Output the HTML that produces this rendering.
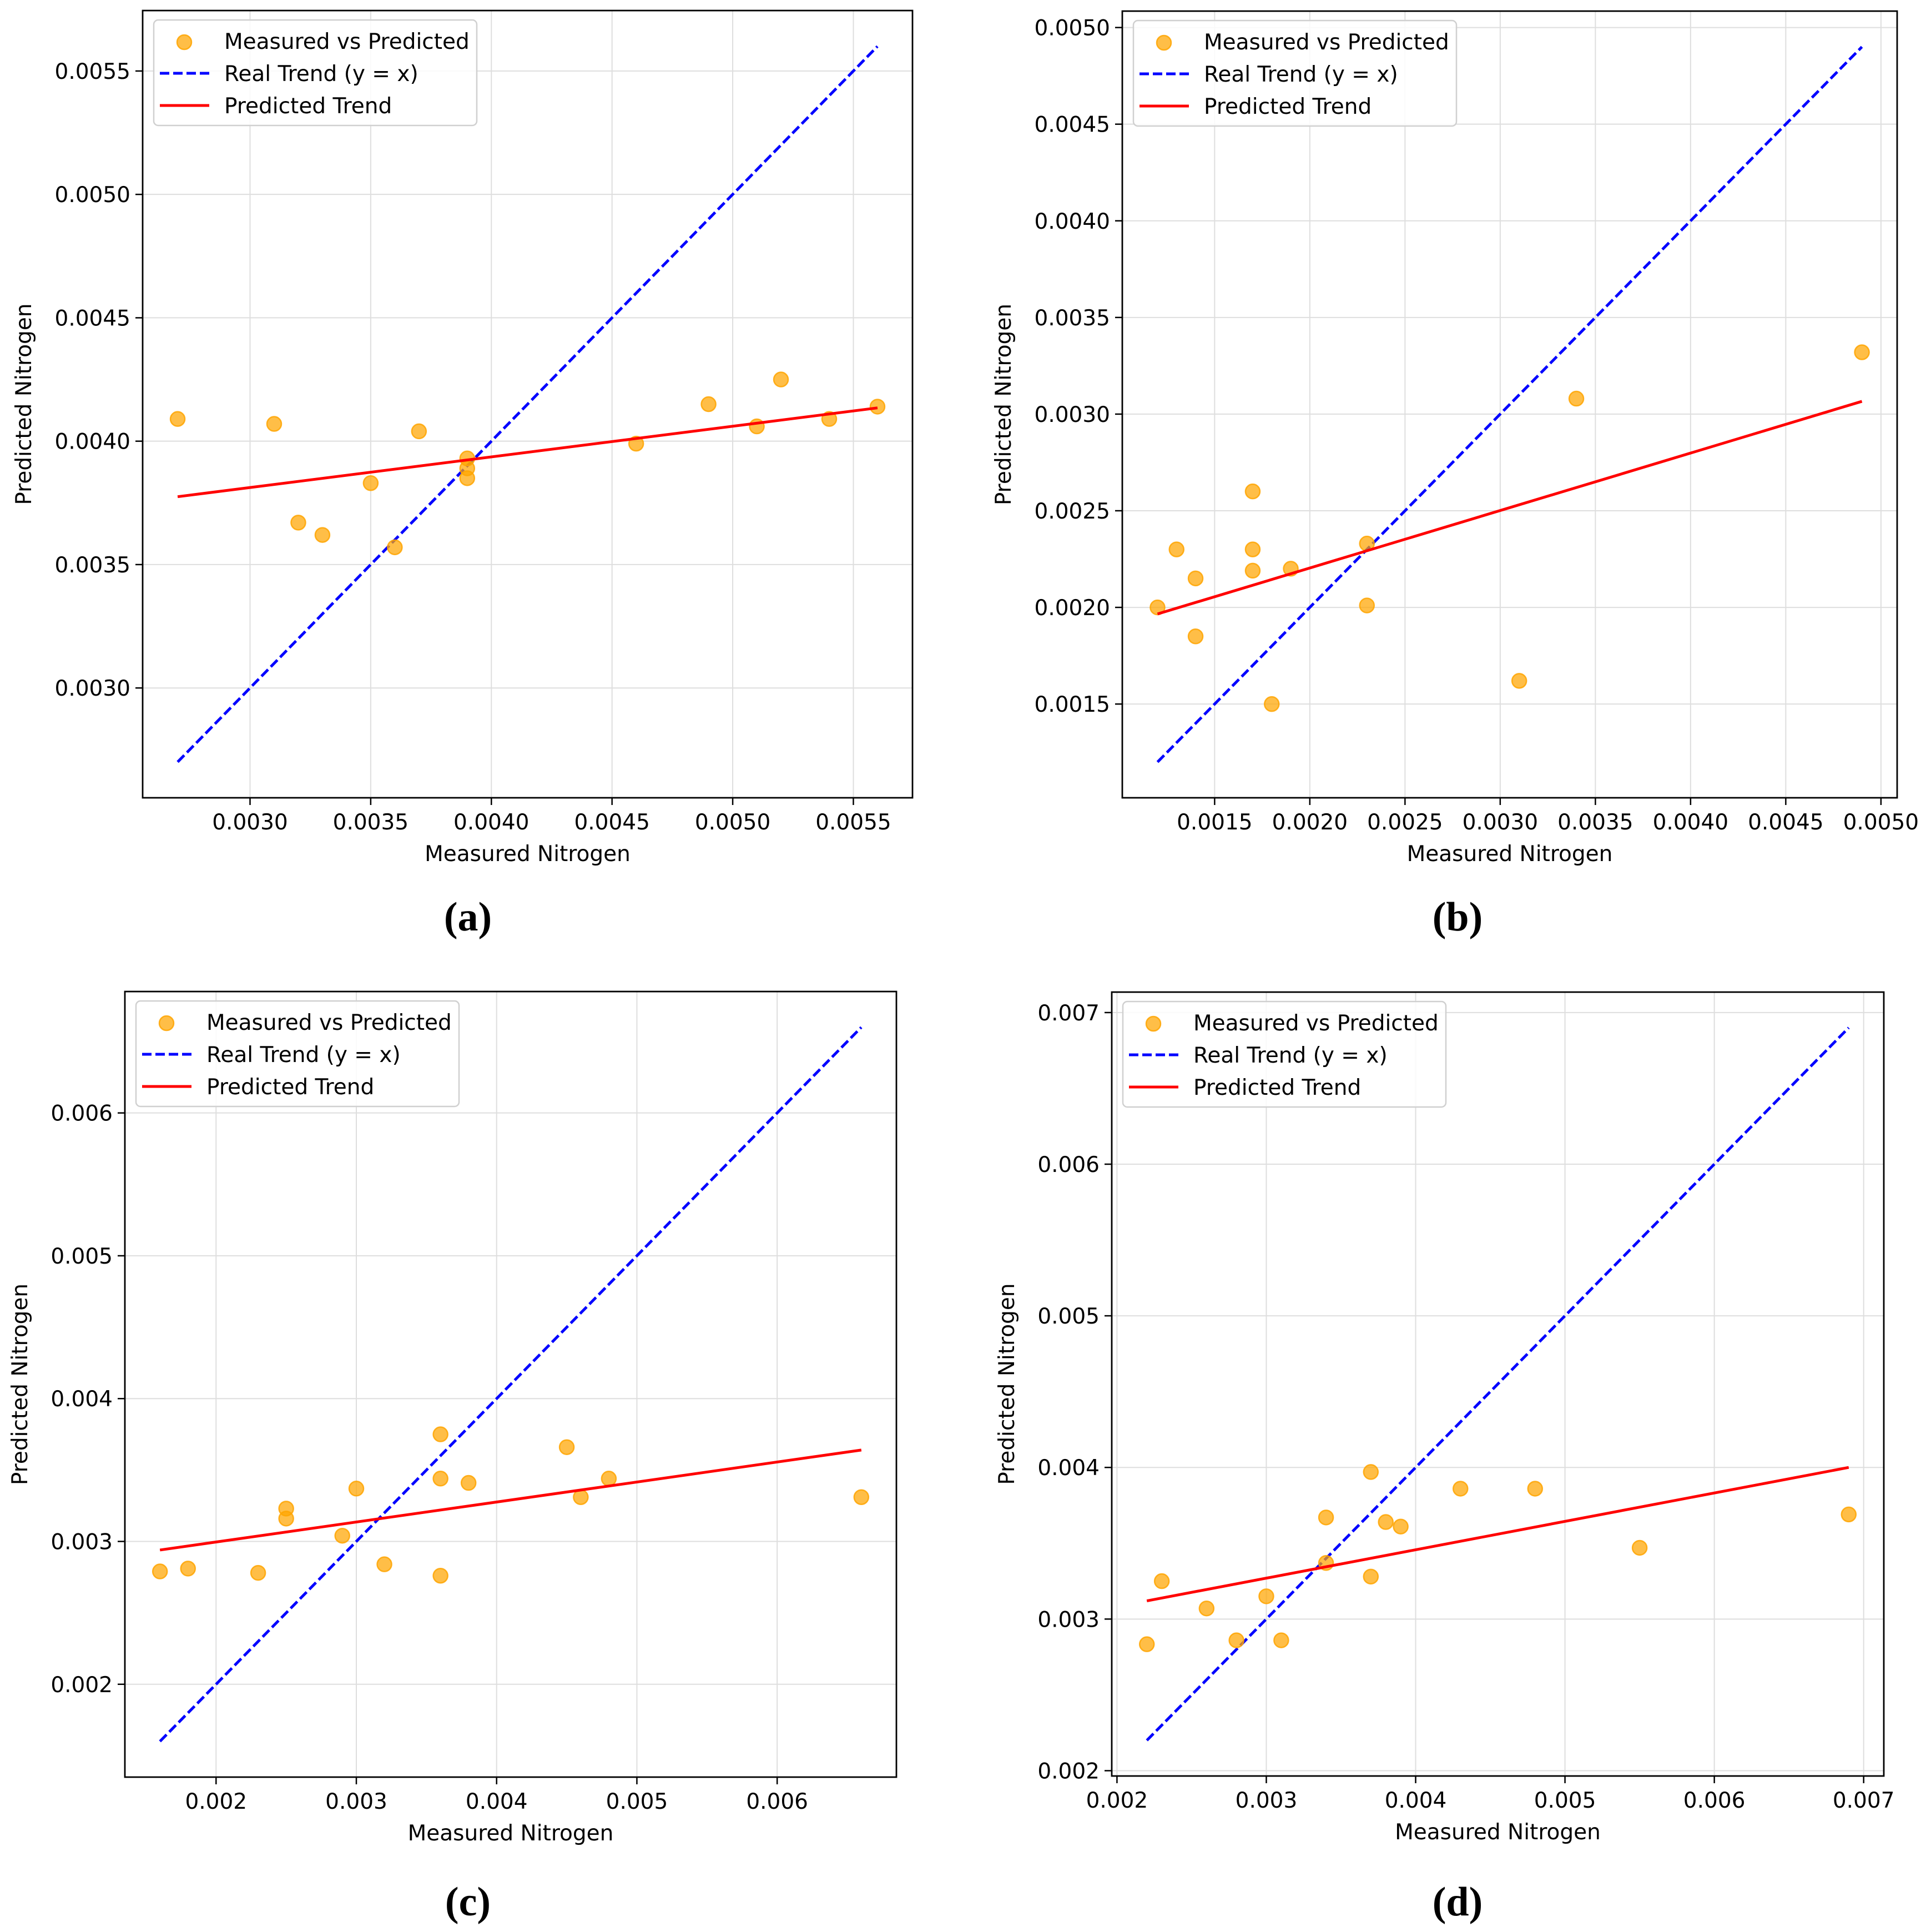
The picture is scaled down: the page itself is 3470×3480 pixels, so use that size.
<!DOCTYPE html>
<html><head><meta charset="utf-8">
<style>
html,body{margin:0;padding:0;background:#fff;}
svg{display:block;}
text{font-family:"DejaVu Sans","Liberation Sans",sans-serif;}
</style></head>
<body>
<svg id="fig" width="3470" height="3480" viewBox="0 0 3470 3480" xmlns="http://www.w3.org/2000/svg">
<rect width="3470" height="3480" fill="#fff"/>
</svg>
<script>
// Panel (a)
const aMeasured = [0.0027,0.0031,0.0032,0.0033,0.0035,0.0036,0.0037,0.0039,0.0039,0.0039,0.0046,0.0049,0.0051,0.0052,0.0054,0.0056];
const aPredicted = [0.00409,0.00407,0.00367,0.00362,0.00383,0.00357,0.00404,0.00393,0.00389,0.00385,0.00399,0.00415,0.00406,0.00425,0.00409,0.00414];
const aFitEnds = [0.003775,0.004135];
const aTicks = [0.0030,0.0035,0.0040,0.0045,0.0050,0.0055];
// Panel (b)
const bMeasured = [0.0012,0.0013,0.0014,0.0014,0.0017,0.0017,0.0017,0.0018,0.0019,0.0023,0.0023,0.0031,0.0034,0.0049];
const bPredicted = [0.0020,0.0023,0.00215,0.00185,0.0026,0.0023,0.00219,0.0015,0.0022,0.00233,0.00201,0.00162,0.00308,0.00332];
const bFitEnds = [0.001966,0.003066];
const bTicks = [0.0015,0.0020,0.0025,0.0030,0.0035,0.0040,0.0045,0.0050];
// Panel (c)
const cMeasured = [0.0016,0.0018,0.0023,0.0025,0.0025,0.0029,0.0030,0.0032,0.0036,0.0036,0.0036,0.0038,0.0045,0.0046,0.0048,0.0066];
const cPredicted = [0.00279,0.00281,0.00278,0.00323,0.00316,0.00304,0.00337,0.00284,0.00375,0.00344,0.00276,0.00341,0.00366,0.00331,0.00344,0.00331];
const cFitEnds = [0.00294,0.00364];
const cTicks = [0.002,0.003,0.004,0.005,0.006];
// Panel (d)
const dMeasured = [0.0022,0.0023,0.0026,0.0028,0.0030,0.0031,0.0034,0.0034,0.0037,0.0037,0.0038,0.0039,0.0043,0.0048,0.0055,0.0069];
const dPredicted = [0.002834,0.00325,0.00307,0.00286,0.00315,0.00286,0.00367,0.00337,0.00397,0.00328,0.00364,0.00361,0.00386,0.00386,0.00347,0.00369];
const dFitEnds = [0.00312,0.00400];
const dTicks = [0.002,0.003,0.004,0.005,0.006,0.007];

const NS = "http://www.w3.org/2000/svg";
const fig = document.getElementById('fig');
const FS = 39;
function mk(tag, attrs, parent){
  const e = document.createElementNS(NS, tag);
  for (const k in attrs) e.setAttribute(k, attrs[k]);
  (parent||fig).appendChild(e);
  return e;
}

function panel(id, box, xs, ys, fit, ticks, dec, label, labelPos){
  const [L,T,R,B] = box;
  const g = mk('g', {});
  
  
  const xmin = Math.min(...xs), xmax = Math.max(...xs);
  const allY = ys.concat([xmin,xmax]).concat(fit);
  const ymin0 = Math.min(...allY), ymax0 = Math.max(...allY);
  const xm = (xmax-xmin)*0.05, ym = (ymax0-ymin0)*0.05;
  const x0 = xmin-xm, x1 = xmax+xm, y0 = ymin0-ym, y1 = ymax0+ym;
  const sx = v => L + (v-x0)/(x1-x0)*(R-L);
  const sy = v => B - (v-y0)/(y1-y0)*(B-T);
  ticks.forEach(t => {
    if (t >= x0 && t <= x1) {
      const gl = mk('line', {x1:sx(t),x2:sx(t),y1:T,y2:B,stroke:'#dedede','stroke-width':2}, g);
      
      
      mk('line', {x1:sx(t),x2:sx(t),y1:B,y2:B+13,stroke:'#000','stroke-width':2.5}, g);
      const tl = mk('text', {x:sx(t),y:B+57,'font-size':FS,'text-anchor':'middle',fill:'#000'}, g);
      tl.textContent = t.toFixed(dec);
      
      
    }
    if (t >= y0 && t <= y1) {
      const gl = mk('line', {x1:L,x2:R,y1:sy(t),y2:sy(t),stroke:'#dedede','stroke-width':2}, g);
      
      
      mk('line', {x1:L-13,x2:L,y1:sy(t),y2:sy(t),stroke:'#000','stroke-width':2.5}, g);
      const tl = mk('text', {x:L-22,y:sy(t)+14,'font-size':FS,'text-anchor':'end',fill:'#000'}, g);
      tl.textContent = t.toFixed(dec);
      
      
    }
  });
  const idl = mk('line', {x1:sx(xmin),y1:sy(xmin),x2:sx(xmax),y2:sy(xmax),stroke:'#0000ff','stroke-width':5,'stroke-dasharray':'17,7'}, g);
  
  
  xs.forEach((x,i) => {
    const c = mk('circle', {cx:sx(x),cy:sy(ys[i]),r:13,fill:'rgba(255,165,0,0.72)',stroke:'rgba(255,165,0,0.85)','stroke-width':2.5}, g);
    
    
  });
  const fl = mk('line', {x1:sx(xmin),y1:sy(fit[0]),x2:sx(xmax),y2:sy(fit[1]),stroke:'#ff0000','stroke-width':5}, g);
  
  
  const fr = mk('rect', {x:L,y:T,width:R-L,height:B-T,fill:'none',stroke:'#000','stroke-width':2.8}, g);
  
  
  const lg = mk('g', {}, g);
  
  
  mk('rect', {x:L+20,y:T+17,width:582,height:190,rx:8,fill:'rgba(255,255,255,0.85)',stroke:'#d0d0d0','stroke-width':2.5}, lg);
  const rows = [T+55, T+113, T+171];
  const lm = mk('circle', {cx:L+75,cy:rows[0]+2,r:13,fill:'rgba(255,165,0,0.72)',stroke:'rgba(255,165,0,0.85)','stroke-width':2.5}, lg);
  
  
  mk('line', {x1:L+31,x2:L+120,y1:rows[1],y2:rows[1],stroke:'#0000ff','stroke-width':5,'stroke-dasharray':'17,7'}, lg);
  mk('line', {x1:L+31,x2:L+120,y1:rows[2],y2:rows[2],stroke:'#ff0000','stroke-width':5}, lg);
  const names = ['Measured vs Predicted','Real Trend (y = x)','Predicted Trend'];
  names.forEach((n,i) => {
    const t = mk('text', {x:L+147,y:rows[i]+14,'font-size':FS,fill:'#000'}, lg);
    t.textContent = n;
    
    
  });
  const xl = mk('text', {x:(L+R)/2,y:B+114,'font-size':FS,'text-anchor':'middle',fill:'#000'}, g);
  xl.textContent = 'Measured Nitrogen';
  
  
  const nch = dec + 2;
  const yoff = nch*0.636*FS + 52;
  const yx = L - yoff, yy = (T+B)/2;
  const yl = mk('text', {x:yx,y:yy,'font-size':FS,'text-anchor':'middle',fill:'#000',transform:`rotate(-90 ${yx} ${yy})`}, g);
  yl.textContent = 'Predicted Nitrogen';
  
  
  const pl = mk('text', {x:labelPos[0],y:labelPos[1],'font-size':74,'font-weight':'bold','text-anchor':'middle',fill:'#000',style:'font-family:"Liberation Serif",serif'}, g);
  pl.textContent = label;
  
  
}

panel('a', [257,19,1644,1437], aMeasured, aPredicted, aFitEnds, aTicks, 4, '(a)', [843,1676]);
panel('b', [2022,20,3418,1437], bMeasured, bPredicted, bFitEnds, bTicks, 4, '(b)', [2626,1676]);
panel('c', [225,1786,1615,3201], cMeasured, cPredicted, cFitEnds, cTicks, 3, '(c)', [843,3450]);
panel('d', [2003,1787,3394,3199], dMeasured, dPredicted, dFitEnds, dTicks, 3, '(d)', [2626,3450]);
</script>
</body></html>
